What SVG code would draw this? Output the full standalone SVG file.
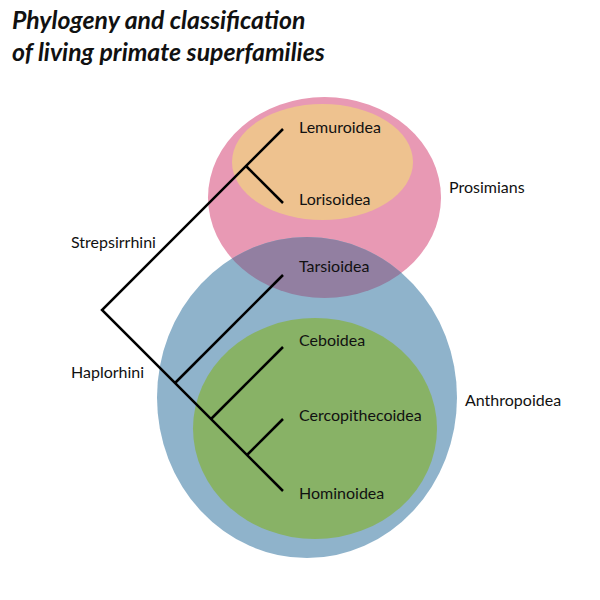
<svg xmlns="http://www.w3.org/2000/svg" width="600" height="600" viewBox="0 0 600 600">
<style>
.t{font-family:Lato,"Noto Sans","DejaVu Sans",sans-serif;font-size:16px;fill:#111}
.title{font-family:Lato,"Noto Sans","DejaVu Sans",sans-serif;font-size:24.8px;font-weight:bold;font-style:italic;fill:#111}
.br{stroke:#000;stroke-width:2.5;fill:none}
</style>
<defs>
<clipPath id="blueClip"><ellipse cx="307" cy="397.5" rx="150" ry="160.5"/></clipPath>
</defs>
<rect width="600" height="600" fill="#fff"/>
<text class="title" x="12" y="29">Phylogeny and classification</text>
<text class="title" x="12" y="61">of living primate superfamilies</text>
<g id="prosimians">
<ellipse cx="324.5" cy="197.5" rx="116.5" ry="100.5" fill="#e899b4"/>
<text class="t" x="449" y="193">Prosimians</text>
</g>
<g id="strepsirrhini-set">
<ellipse cx="322.5" cy="162" rx="90.5" ry="58" fill="#eec28f"/>
</g>
<g id="anthropoidea">
<ellipse cx="307" cy="397.5" rx="150" ry="160.5" fill="#8fb3cb"/>
<ellipse cx="324.5" cy="197.5" rx="116.5" ry="100.5" fill="#927fa1" clip-path="url(#blueClip)"/>
<text class="t" x="465" y="406">Anthropoidea</text>
</g>
<g id="simians">
<ellipse cx="315" cy="428.5" rx="122" ry="110.5" fill="#88b266"/>
</g>
<g id="connectors">
<polyline class="br" points="283,129 102,310 283,491"/>
<line class="br" x1="246" y1="166" x2="283" y2="203"/>
<line class="br" x1="175" y1="383" x2="283" y2="275"/>
<line class="br" x1="211" y1="419" x2="283" y2="347"/>
<line class="br" x1="247" y1="455" x2="283" y2="419"/>
</g>
<g id="lemuroidea"><text class="t" x="299" y="133">Lemuroidea</text></g>
<g id="lorisoidea"><text class="t" x="299" y="205">Lorisoidea</text></g>
<g id="tarsioidea"><text class="t" x="299" y="272">Tarsioidea</text></g>
<g id="ceboidea"><text class="t" x="299" y="346">Ceboidea</text></g>
<g id="cercopithecoidea"><text class="t" x="299" y="421">Cercopithecoidea</text></g>
<g id="hominoidea"><text class="t" x="299" y="499">Hominoidea</text></g>
<g id="strepsirrhini"><text class="t" x="71" y="248">Strepsirrhini</text></g>
<g id="haplorhini"><text class="t" x="71" y="378">Haplorhini</text></g>
</svg>
